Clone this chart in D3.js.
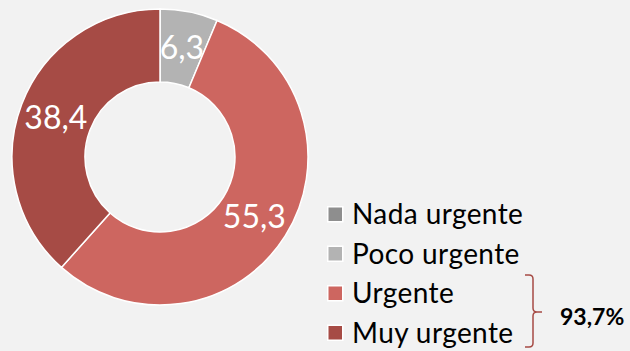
<!DOCTYPE html>
<html>
<head>
<meta charset="utf-8">
<script src="https://cdn.jsdelivr.net/npm/d3@7"></script>
<style>
  html, body { margin: 0; padding: 0; background: #f2f2f2; }
  svg { display: block; }
  text { font-family: Lato, "Open Sans", sans-serif; }
</style>
</head>
<body>
<svg id="chart" width="630" height="351"></svg>
<script>
// Urgency categories and their shares (%)
const categories = ["Nada urgente", "Poco urgente", "Urgente", "Muy urgente"];
const values = [0, 6.3, 55.3, 38.4];
const colors = ["#8e8e8e", "#b3b3b3", "#cd6660", "#a64b45"];
const groupLabel = "93,7%";   // Urgente + Muy urgente

const svg = d3.select("#chart");
const W = 630, H = 351;
svg.append("rect").attr("width", W).attr("height", H).attr("fill", "#f2f2f2");

const cx = 160, cy = 157, rOuter = 148, rInner = 75;

const pie = d3.pie().sort(null).value(d => d.value);
const data = categories.map((c, i) => ({ name: c, value: values[i], color: colors[i] }));
const arcs = pie(data);
const arc = d3.arc().innerRadius(rInner).outerRadius(rOuter);
const labelArc = d3.arc().innerRadius((rInner + rOuter) / 2).outerRadius((rInner + rOuter) / 2);

const g = svg.append("g").attr("transform", `translate(${cx},${cy})`);

g.selectAll("path.slice")
  .data(arcs.filter(d => d.data.value > 0))
  .join("path")
  .attr("class", "slice")
  .attr("d", arc)
  .attr("fill", d => d.data.color)
  .attr("stroke", "#ffffff")
  .attr("stroke-width", 1.5);

const fmt = v => d3.format(".1f")(v).replace(".", ",");

g.selectAll("text.val")
  .data(arcs.filter(d => d.data.value > 0))
  .join("text")
  .attr("class", "val")
  .attr("transform", d => `translate(${labelArc.centroid(d)})`)
  .attr("text-anchor", "middle")
  .attr("dy", "0.36em")
  .attr("fill", "#ffffff")
  .attr("font-size", 32)
  .text(d => fmt(d.data.value));

// Legend
const legend = svg.append("g").attr("transform", "translate(327,206)");
const rowH = 39.5;
const rows = legend.selectAll("g.row")
  .data(data)
  .join("g")
  .attr("class", "row")
  .attr("transform", (d, i) => `translate(0,${i * rowH})`);

rows.append("rect")
  .attr("x", 0.75).attr("y", 0.75)
  .attr("width", 15).attr("height", 15)
  .attr("fill", d => d.color)
  .attr("stroke", "#ffffff")
  .attr("stroke-width", 1.5);

rows.append("text")
  .attr("x", 25)
  .attr("y", 18)
  .attr("fill", "#000000")
  .attr("font-size", 28)
  .attr("letter-spacing", 0.4)
  .text(d => d.name);

// Brace grouping the two urgent categories
const bx = 525, by0 = 275, by1 = 347, bmid = 312, bw = 8, tip = 9, rc = 4;
const brace = d3.path();
brace.moveTo(bx, by0);
brace.lineTo(bx + bw - rc, by0);
brace.quadraticCurveTo(bx + bw, by0, bx + bw, by0 + rc);
brace.lineTo(bx + bw, bmid - rc);
brace.quadraticCurveTo(bx + bw, bmid, bx + bw + rc, bmid);
brace.lineTo(bx + bw + tip, bmid);
brace.moveTo(bx + bw + rc, bmid);
brace.quadraticCurveTo(bx + bw, bmid, bx + bw, bmid + rc);
brace.lineTo(bx + bw, by1 - rc);
brace.quadraticCurveTo(bx + bw, by1, bx + bw - rc, by1);
brace.lineTo(bx, by1);
svg.append("path")
  .attr("d", brace.toString())
  .attr("fill", "none")
  .attr("stroke", "#a64b45")
  .attr("stroke-width", 1.5);

svg.append("text")
  .attr("x", 560)
  .attr("y", 325)
  .attr("font-size", 23)
  .attr("font-weight", "bold")
  .attr("fill", "#000000")
  .text(groupLabel);
</script>
</body>
</html>
